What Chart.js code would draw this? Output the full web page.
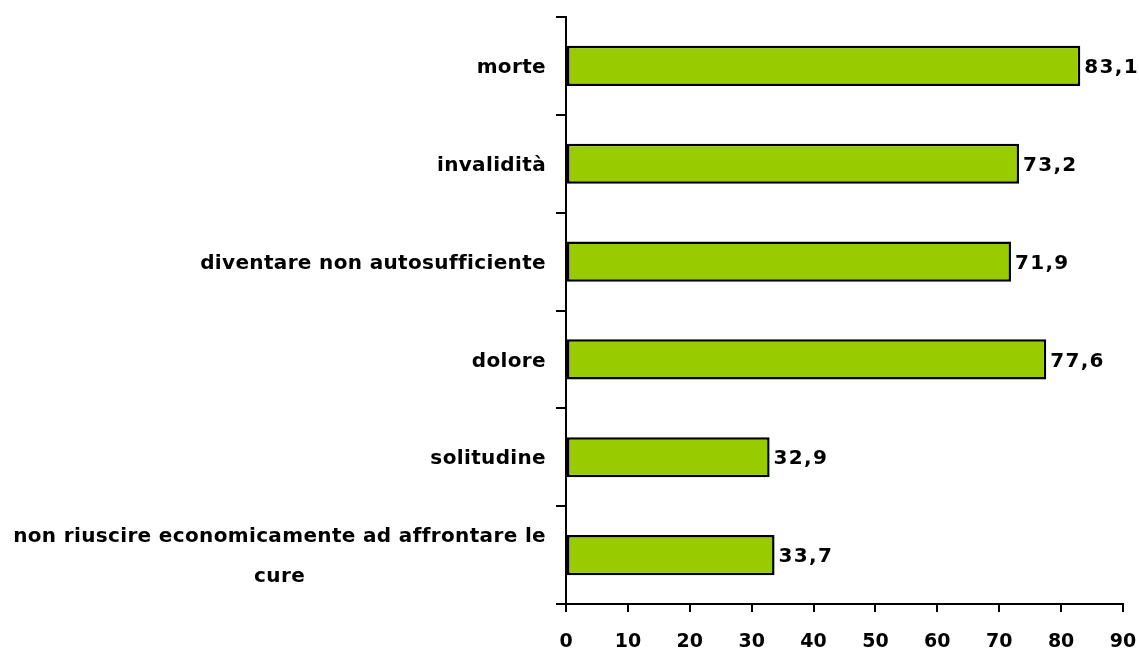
<!DOCTYPE html>
<html><head><meta charset="utf-8">
<script src="https://cdn.jsdelivr.net/npm/chart.js@4/dist/chart.umd.min.js"></script>
<style>html,body{margin:0;padding:0;background:#fff}#wrap{width:1139px;height:653px}</style>
</head><body><div id="wrap"><canvas id="c" width="1139" height="653"></canvas></div>
<script>
const categories = [
  ["morte"],
  ["invalidità"],
  ["diventare non autosufficiente"],
  ["dolore"],
  ["solitudine"],
  ["non riuscire economicamente ad affrontare le", "cure"]
];
const values = [83.1, 73.2, 71.9, 77.6, 32.9, 33.7];
const xTicks = [0, 10, 20, 30, 40, 50, 60, 70, 80, 90];

const FONT = "'DejaVu Sans', sans-serif";

const labelPlugin = {
  id: 'labels',
  afterDraw(chart) {
    const ctx = chart.ctx;
    const y = chart.scales.y;
    ctx.save();
    ctx.fillStyle = '#000';
    ctx.font = "bold 20px " + FONT;
    ctx.letterSpacing = '0.35px';
    ctx.textBaseline = 'middle';
    ctx.textAlign = 'center';
    const right = 546;
    const lh = 40;
    categories.forEach((lines, i) => {
      const cy = y.getPixelForValue(i) + 2;
      const maxW = Math.max(...lines.map(l => ctx.measureText(l).width));
      const cx = right - maxW / 2;
      const y0 = cy - (lines.length - 1) * lh / 2;
      lines.forEach((l, k) => ctx.fillText(l, cx, y0 + k * lh));
    });
    // value labels
    const meta = chart.getDatasetMeta(0);
    ctx.font = "bold 20px " + FONT;
    ctx.letterSpacing = '1.3px';
    ctx.textAlign = 'left';
    meta.data.forEach((bar, i) => {
      ctx.fillText(values[i].toFixed(1).replace('.', ','), bar.x + 4, bar.y + 2);
    });
    ctx.restore();
  }
};

new Chart(document.getElementById('c'), {
  type: 'bar',
  data: {
    labels: categories.map(c => c.join(' ')),
    datasets: [{
      data: values,
      backgroundColor: '#99CC00',
      borderColor: '#000',
      borderWidth: 2.5,
      borderSkipped: false,
      barPercentage: 0.41,
      categoryPercentage: 1
    }]
  },
  options: {
    indexAxis: 'y',
    responsive: false,
    animation: false,
    layout: { padding: { top: 17, right: 16, left: 0, bottom: 0 } },
    plugins: { legend: { display: false }, tooltip: { enabled: false } },
    scales: {
      x: {
        min: 0, max: 90,
        afterBuildTicks: s => { s.ticks = xTicks.map(v => ({ value: v })); },
        afterFit: s => { s.height = 49; s.paddingRight = 0; s.paddingLeft = 0; },
        border: { color: '#000', width: 2 },
        grid: { drawOnChartArea: false, color: '#000', lineWidth: 2, tickLength: 8 },
        ticks: { color: '#000', font: { family: FONT, size: 19, weight: 'bold' }, padding: 19, maxRotation: 0 }
      },
      y: {
        afterFit: s => { s.width = 566; s.paddingTop = 0; s.paddingBottom = 0; },
        border: { color: '#000', width: 2 },
        grid: { drawOnChartArea: false, color: '#000', lineWidth: 2, tickLength: 10, offset: true },
        ticks: { display: false }
      }
    }
  },
  plugins: [labelPlugin]
});
</script>
</body></html>
